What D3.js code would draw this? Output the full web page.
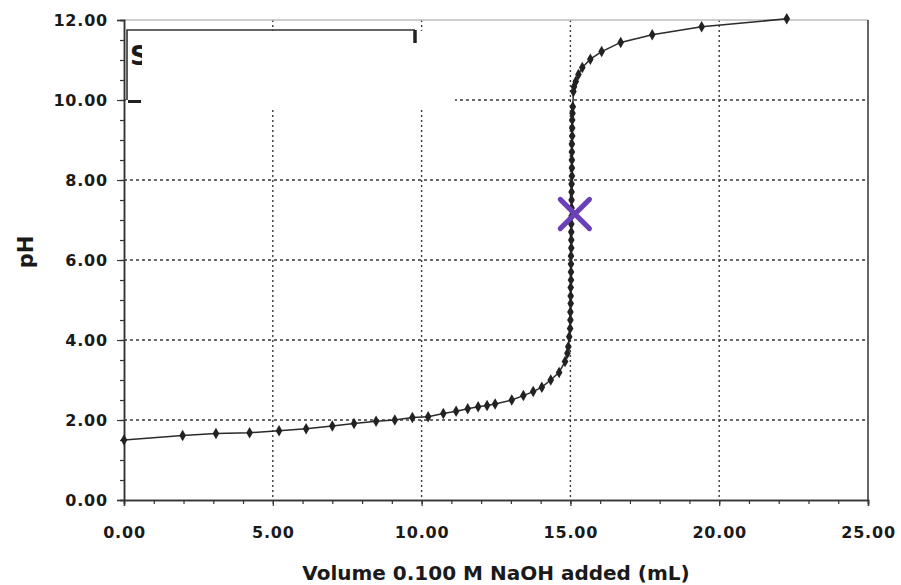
<!DOCTYPE html>
<html>
<head>
<meta charset="utf-8">
<script src="https://cdn.jsdelivr.net/npm/d3@7"></script>
<style>
  body { margin: 0; background: #fff; }
  svg { display: block; }
  text { font-family: "DejaVu Sans", sans-serif; fill: #1a1a1a; }
</style>
</head>
<body>
<svg width="901" height="585"></svg>
<script>
// titration data
var volume = [0, 1.97, 3.09, 4.22, 5.21, 6.12, 7.0, 7.73, 8.47, 9.1, 9.69, 10.22, 10.73, 11.16, 11.55, 11.9,
  12.2, 12.47, 13.03, 13.42, 13.75, 14.04, 14.34, 14.62, 14.82, 14.9, 14.93, 14.96, 14.99,
  15.0, 15.0, 15.01, 15.01, 15.01, 15.02, 15.02, 15.02, 15.02, 15.03, 15.03, 15.03, 15.03, 15.04,
  15.04, 15.04, 15.04, 15.04, 15.05, 15.05, 15.05, 15.05, 15.05, 15.06, 15.06, 15.06, 15.07, 15.08,
  15.1, 15.12, 15.18, 15.27, 15.4, 15.67, 16.05, 16.69, 17.75, 19.41, 22.27];
var ph = [1.5, 1.61, 1.66, 1.68, 1.73, 1.78, 1.85, 1.91, 1.97, 2.0, 2.06, 2.08, 2.16, 2.22, 2.28, 2.33,
  2.36, 2.4, 2.5, 2.61, 2.71, 2.82, 3.0, 3.19, 3.46, 3.67, 3.83, 4.08, 4.29,
  4.5, 4.7, 4.91, 5.1, 5.31, 5.5, 5.7, 5.9, 6.1, 6.3, 6.5, 6.7, 6.9, 7.1,
  7.3, 7.5, 7.7, 7.9, 8.1, 8.3, 8.5, 8.7, 8.9, 9.1, 9.3, 9.5, 9.67, 9.83,
  10.21, 10.33, 10.46, 10.64, 10.81, 11.02, 11.21, 11.44, 11.63, 11.83, 12.03];

// equivalence point mark
var eqVolume = [15.15];
var eqPH = [7.15];

var xTicks = [0, 5, 10, 15, 20, 25];
var yTicks = [0, 2, 4, 6, 8, 10, 12];
var xGrid = [5, 10, 15, 20];
var yGrid = [2, 4, 6, 8, 10];

var xTitle = "Volume 0.100 M NaOH added (mL)";
var yTitle = "pH";

var svg = d3.select("svg");
// note: "top" is taken by window.top, so use plot* names
var plotL = 124, plotR = 868, plotT = 20, plotB = 500;

var x = d3.scaleLinear().domain([0, 25]).range([plotL, plotR]);
var y = d3.scaleLinear().domain([0, 12]).range([plotB, plotT]);

var pts = volume.map(function(v, i) { return [v, ph[i]]; });

// grid
svg.append("g").selectAll("line").data(xGrid).enter().append("line")
  .attr("x1", d => x(d)).attr("x2", d => x(d))
  .attr("y1", plotT).attr("y2", plotB)
  .attr("stroke", "#3a3a3a").attr("stroke-width", 1.4).attr("stroke-dasharray", "2,3");
svg.append("g").selectAll("line").data(yGrid).enter().append("line")
  .attr("x1", plotL).attr("x2", plotR)
  .attr("y1", d => y(d)).attr("y2", d => y(d))
  .attr("stroke", "#3a3a3a").attr("stroke-width", 1.4).attr("stroke-dasharray", "3,3");

// frame: light top, dark right
svg.append("line").attr("x1", plotL).attr("x2", plotR).attr("y1", plotT).attr("y2", plotT)
  .attr("stroke", "#bdbdbd").attr("stroke-width", 1.5);
svg.append("line").attr("x1", plotR).attr("x2", plotR).attr("y1", plotT).attr("y2", plotB)
  .attr("stroke", "#333").attr("stroke-width", 1.5);

// leftover legend box (mostly blank, the "S" is cut off)
svg.append("clipPath").attr("id", "legclip")
  .append("rect").attr("x", 126).attr("y", 31).attr("width", 16).attr("height", 60);
svg.append("rect").attr("x", plotL + 2).attr("y", 31).attr("width", 455 - plotL - 2).attr("height", 77)
  .attr("fill", "#fff");
svg.append("path").attr("d", "M127,100 L127,30 L415,30")
  .attr("fill", "none").attr("stroke", "#333").attr("stroke-width", 1.6);
svg.append("line").attr("x1", 415).attr("x2", 415).attr("y1", 30).attr("y2", 43)
  .attr("stroke", "#222").attr("stroke-width", 3.5);
svg.append("line").attr("x1", 128).attr("x2", 141).attr("y1", 101.5).attr("y2", 101.5)
  .attr("stroke", "#222").attr("stroke-width", 3);
svg.append("text").attr("x", 130).attr("y", 65).text("S")
  .attr("clip-path", "url(#legclip)")
  .style("font-size", "26px").style("font-weight", "bold");

// axes
svg.append("g").attr("transform", `translate(0,${plotB})`)
  .call(d3.axisBottom(x).tickValues(xTicks).tickFormat(d3.format(".2f")).tickSize(6).tickPadding(21));
svg.append("g").attr("transform", `translate(${plotL},0)`)
  .call(d3.axisLeft(y).tickValues(yTicks).tickFormat(d3.format(".2f")).tickSize(7).tickPadding(9));

// minor ticks
svg.append("g").attr("transform", `translate(0,${plotB})`)
  .call(d3.axisBottom(x).tickValues(d3.range(0, 26, 1)).tickFormat("").tickSize(4));
svg.append("g").attr("transform", `translate(${plotL},0)`)
  .call(d3.axisLeft(y).tickValues(d3.range(0, 12.01, 0.5)).tickFormat("").tickSize(4));

svg.selectAll(".domain").attr("stroke", "#333").attr("stroke-width", 1.5);
svg.selectAll(".tick line").attr("stroke", "#333").attr("stroke-width", 1.2);
svg.selectAll(".tick text")
  .style("font-family", "'DejaVu Sans', sans-serif")
  .style("font-size", "16px").style("font-weight", "bold")
  .style("letter-spacing", "0.8px").attr("fill", "#1a1a1a");

// titration curve
svg.append("path").datum(pts)
  .attr("fill", "none").attr("stroke", "#2a2a2a").attr("stroke-width", 1.5)
  .attr("d", d3.line().x(d => x(d[0])).y(d => y(d[1])));
svg.append("g").selectAll("path").data(pts).enter().append("path")
  .attr("transform", d => `translate(${x(d[0])},${y(d[1])})`)
  .attr("d", d3.symbol().type(d3.symbolDiamond).size(38))
  .attr("fill", "#222");

// equivalence X
svg.append("g").selectAll("path").data(eqVolume).enter().append("path")
  .attr("transform", (d, i) => `translate(${x(d)},${y(eqPH[i])})`)
  .attr("d", d3.symbol().type(d3.symbolTimes).size(560))
  .attr("fill", "none").attr("stroke", "#6a3fb8").attr("stroke-width", 5)
  .attr("stroke-linecap", "round");

// titles
svg.append("text").attr("x", 496).attr("y", 580)
  .attr("text-anchor", "middle").text(xTitle)
  .style("font-size", "20px").style("font-weight", "bold");
svg.append("text").attr("transform", "translate(33,252) rotate(-90)")
  .attr("text-anchor", "middle").text(yTitle)
  .style("font-size", "21px").style("font-weight", "bold");
</script>
</body>
</html>
